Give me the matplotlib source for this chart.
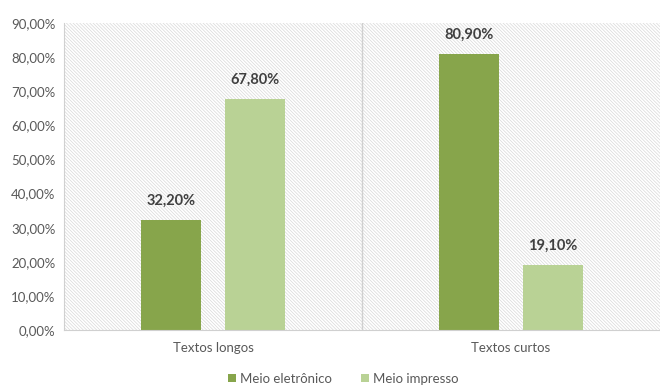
import matplotlib.pyplot as plt
import matplotlib.patches as mpatches
import numpy as np

plt.rcParams['font.family'] = ['Lato', 'DejaVu Sans']
plt.rcParams['hatch.color'] = '#d8d8d8'
plt.rcParams['hatch.linewidth'] = 0.5

categorias = ['Textos longos', 'Textos curtos']
eletronico = [32.2, 80.9]
impresso = [67.8, 19.1]
series = ['Meio eletrônico', 'Meio impresso']
cores = ['#87A54B', '#B9D295']

fig = plt.figure(figsize=(6.6, 3.85), dpi=100)
ax = fig.add_axes([0.097, 0.143, 0.903, 0.797])

# fundo hachurado
ax.add_patch(mpatches.Rectangle((0, 0), 1, 1, transform=ax.transAxes,
                                facecolor='white', edgecolor='#d8d8d8',
                                hatch='\\' * 10, linewidth=0, zorder=0))

x = np.arange(len(categorias))
w = 0.2
off = 0.14
b1 = ax.bar(x - off, eletronico, w, color=cores[0], label=series[0], zorder=2)
b2 = ax.bar(x + off, impresso, w, color=cores[1], label=series[1], zorder=2)

for bars, vals in [(b1, eletronico), (b2, impresso)]:
    for b, v in zip(bars, vals):
        ax.text(b.get_x() + b.get_width() / 2, v + 3.5,
                f'{v:.2f}%'.replace('.', ','), ha='center', va='bottom',
                fontsize=10.5, fontweight='bold', color='#404040', zorder=3)

ax.set_xlim(-0.5, 1.5)
ax.set_ylim(0, 90)
ax.set_yticks(np.arange(0, 91, 10))
ax.set_yticklabels([f'{t:.2f}%'.replace('.', ',') for t in np.arange(0, 91, 10)])
ax.set_xticks(x)
ax.set_xticklabels(categorias)
ax.axvline(0.5, color='#d0d0d0', linewidth=1, zorder=1)

for s in ['top', 'right']:
    ax.spines[s].set_visible(False)
ax.spines['left'].set_color('#d0d0d0')
ax.spines['bottom'].set_color('#d0d0d0')
ax.tick_params(length=0, colors='#595959', labelsize=9.5, pad=6)
ax.tick_params(axis='x', pad=9)

fig.legend(loc='lower center', bbox_to_anchor=(0.52, -0.03), ncol=2, frameon=False,
           fontsize=9.5, handlelength=0.6, handleheight=0.6, handletextpad=0.3,
           columnspacing=2.2, labelcolor='#595959')

fig.savefig('out.png', dpi=100)
